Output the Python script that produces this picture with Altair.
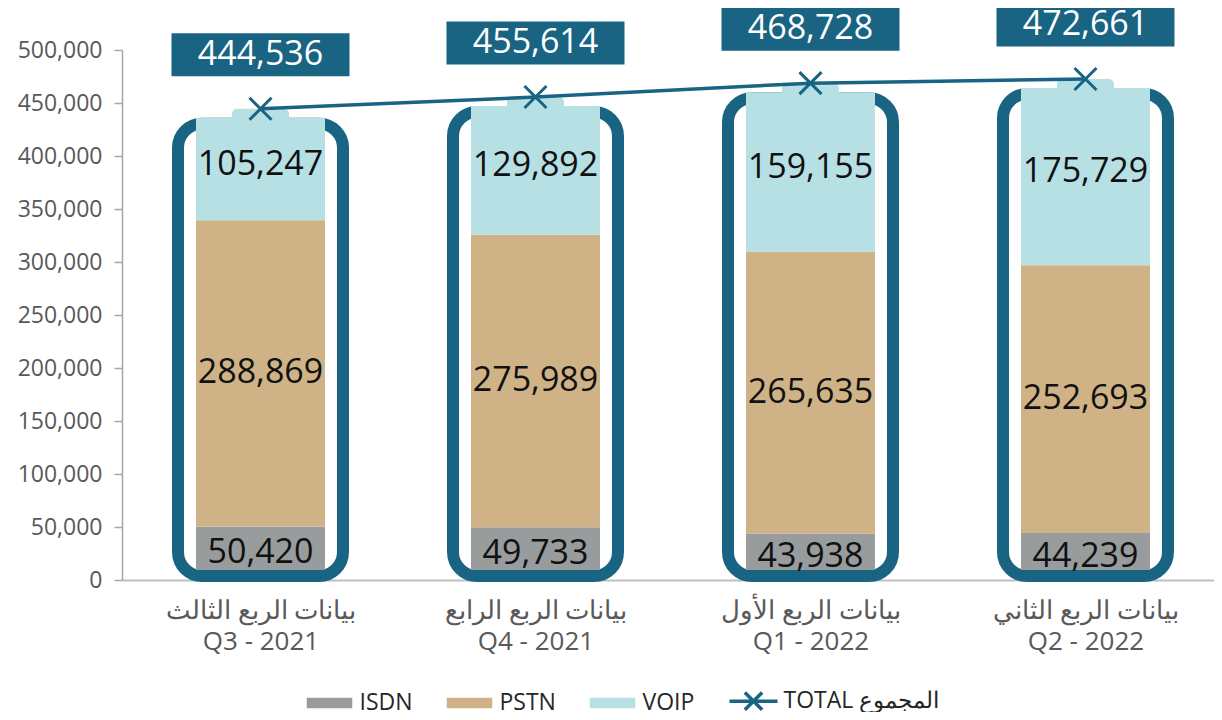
import altair as alt
import pandas as pd

# ---- data ----
quarters_ar = ["بيانات الربع الثالث", "بيانات الربع الرابع", "بيانات الربع الأول", "بيانات الربع الثاني"]
quarters_en = ["Q3 - 2021", "Q4 - 2021", "Q1 - 2022", "Q2 - 2022"]
isdn = [50420, 49733, 43938, 44239]
pstn = [288869, 275989, 265635, 252693]
voip = [105247, 129892, 159155, 175729]
totals = [444536, 455614, 468728, 472661]
series_names = ["ISDN", "PSTN", "VOIP"]
total_name = "TOTAL المجموع"
y_ticks = [0, 50000, 100000, 150000, 200000, 250000, 300000, 350000, 400000, 450000, 500000]

DARK = "#186482"
GRAY = "#989C9D"
TAN = "#CFB387"
LIGHT = "#B7E0E5"
series_colors = [GRAY, TAN, LIGHT]

qkeys = [a + "|" + e for a, e in zip(quarters_ar, quarters_en)]

rows = []
for i, q in enumerate(qkeys):
    start = 0
    for s, vals in zip(series_names, [isdn, pstn, voip]):
        v = vals[i]
        rows.append({"q": q, "series": s, "value": v, "start": start,
                     "end": start + v, "mid": start + v / 2})
        start += v
seg_df = pd.DataFrame(rows)
tot_df = pd.DataFrame({"q": qkeys, "total": totals})
leg_df = pd.DataFrame({"name": series_names + [total_name]})

# ---- scales / axes ----
xs = alt.Scale(type="point", domain=qkeys, padding=0.4855, align=0.5187)
ys = alt.Scale(domain=[0, 500000], nice=False, zero=True)
xaxis = alt.Axis(title=None, ticks=False, domainColor="#BFBFBF", domainWidth=2,
                 labelFont="Open Sans", labelFontSize=26, labelColor="#595959",
                 labelPadding=17, labelLineHeight=31, labelAngle=0, labelLimit=400,
                 labelExpr="split(datum.label, '|')")
yaxis = alt.Axis(title=None, values=y_ticks, format=",.0f", grid=False, tickSize=8,
                 tickColor="#A6A6A6", tickWidth=1.5, domainColor="#A6A6A6",
                 domainWidth=1.5, labelFont="Open Sans", labelFontSize=23,
                 labelColor="#595959", labelPadding=12)

X = alt.X("q:N", scale=xs, axis=xaxis, title=None)


def Y(field):
    return alt.Y(field, type="quantitative", scale=ys, axis=yaxis, title=None)


seg_color = alt.Color("series:N", scale=alt.Scale(domain=series_names, range=series_colors), legend=None)

outline = alt.Chart(tot_df).mark_bar(
    width=165, cornerRadius=24, fill="white", stroke=DARK, strokeWidth=12,
    yOffset=15, y2Offset=-4
).encode(x=X, y=Y("total"), y2=alt.datum(0))

base = alt.Chart(seg_df)
isdn_bar = base.transform_filter(alt.datum.series == "ISDN").mark_bar(
    width=129, y2Offset=-10).encode(x=X, y=Y("end"), y2="start", color=seg_color)
pstn_bar = base.transform_filter(alt.datum.series == "PSTN").mark_bar(
    width=129).encode(x=X, y=Y("end"), y2="start", color=seg_color)
voip_bar = base.transform_filter(alt.datum.series == "VOIP").mark_bar(
    width=129, yOffset=9).encode(x=X, y=Y("end"), y2="start", color=seg_color)

nub = alt.Chart(tot_df).mark_bar(
    width=57, color=LIGHT, cornerRadiusTopLeft=5, cornerRadiusTopRight=5, y2Offset=12
).encode(x=X, y=Y("total"), y2="total")

seg_text = base.mark_text(font="Open Sans", fontSize=34, color="#111111", baseline="middle").encode(
    x=X, y=Y("mid"), text=alt.Text("value:Q", format=","))

line = alt.Chart(tot_df).mark_line(color=DARK, strokeWidth=3.5).encode(x=X, y=Y("total"))
markers = alt.Chart(tot_df).mark_point(
    shape="M-1,-1L1,1M-1,1L1,-1", size=484, filled=False, color=DARK, strokeWidth=3, opacity=1
).encode(x=X, y=Y("total"))

boxes = alt.Chart(tot_df).mark_point(
    shape="M-1,-0.2416H1V0.2416H-1Z", size=31684, filled=True, color=DARK, opacity=1,
    strokeWidth=0, yOffset=-54
).encode(x=X, y=Y("total"))
box_text = alt.Chart(tot_df).mark_text(
    font="Open Sans", fontSize=34, color="white", baseline="middle", dy=-54
).encode(x=X, y=Y("total"), text=alt.Text("total:Q", format=","))

legend_names = series_names + [total_name]
legend_colors = series_colors + [DARK]
rect_path = "M-0.875,-0.15H0.875V0.15H-0.875Z"
total_path = "M-1,0H1M-0.36,-0.36L0.36,0.36M-0.36,0.36L0.36,-0.36"
legend_paths = [rect_path, rect_path, rect_path, total_path]


def leg():
    return alt.Legend(title=None, orient="none", legendX=181.5, legendY=625,
                      direction="horizontal", columns=4, symbolSize=2304,
                      symbolStrokeWidth=3.5, symbolOpacity=1, labelFont="Open Sans",
                      labelFontSize=23, labelColor="#262626", labelOffset=4,
                      columnPadding=28, padding=0, labelLimit=400)


legend_layer = alt.Chart(leg_df).mark_point(opacity=0).encode(
    fill=alt.Fill("name:N", scale=alt.Scale(domain=legend_names, range=legend_colors), legend=leg()),
    stroke=alt.Stroke("name:N", scale=alt.Scale(domain=legend_names, range=legend_colors), legend=leg()),
    shape=alt.Shape("name:N", scale=alt.Scale(domain=legend_names, range=legend_paths), legend=leg()),
)

chart = alt.layer(
    outline, isdn_bar, pstn_bar, voip_bar, nub, seg_text, line, markers, boxes, box_text, legend_layer
).properties(
    width=1092, height=530,
    padding={"left": 114, "top": 42, "right": 0, "bottom": 132},
    autosize=alt.AutoSizeParams(type="none"),
    background="white",
).configure_view(stroke=None)

chart.save("out.html", embed_options={"renderer": "svg", "actions": False})
